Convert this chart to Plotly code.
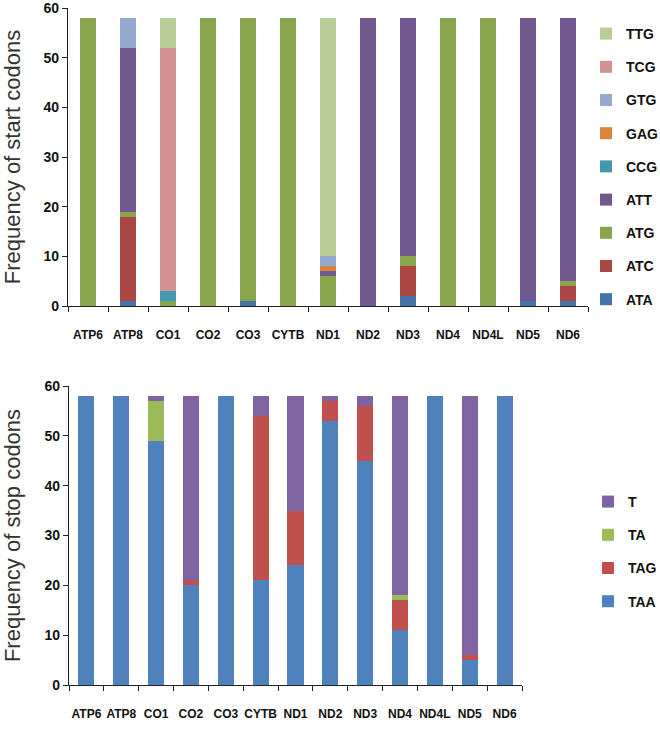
import plotly.graph_objects as go

genes = ["ATP6", "ATP8", "CO1", "CO2", "CO3", "CYTB", "ND1", "ND2", "ND3", "ND4", "ND4L", "ND5", "ND6"]

# Start codons (stack order bottom -> top)
start_ATA = [0, 1, 0, 0, 1, 0, 0, 0, 2, 0, 0, 1, 1]
start_ATC = [0, 17, 0, 0, 0, 0, 0, 0, 6, 0, 0, 0, 3]
start_ATG = [58, 1, 1, 58, 57, 58, 6, 0, 2, 58, 58, 0, 1]
start_ATT = [0, 33, 0, 0, 0, 0, 1, 58, 48, 0, 0, 57, 53]
start_CCG = [0, 0, 2, 0, 0, 0, 0, 0, 0, 0, 0, 0, 0]
start_GAG = [0, 0, 0, 0, 0, 0, 1, 0, 0, 0, 0, 0, 0]
start_GTG = [0, 6, 0, 0, 0, 0, 2, 0, 0, 0, 0, 0, 0]
start_TCG = [0, 0, 49, 0, 0, 0, 0, 0, 0, 0, 0, 0, 0]
start_TTG = [0, 0, 6, 0, 0, 0, 48, 0, 0, 0, 0, 0, 0]

# Stop codons (stack order bottom -> top)
stop_TAA = [58, 58, 49, 20, 58, 21, 24, 53, 45, 11, 58, 5, 58]
stop_TAG = [0, 0, 0, 1, 0, 33, 11, 4, 11, 6, 0, 1, 0]
stop_TA = [0, 0, 8, 0, 0, 0, 0, 0, 0, 1, 0, 0, 0]
stop_T = [0, 0, 1, 37, 0, 4, 23, 1, 2, 40, 0, 52, 0]

start_series = [
    ("ATA", start_ATA, "#4572a7"),
    ("ATC", start_ATC, "#aa4643"),
    ("ATG", start_ATG, "#89a54e"),
    ("ATT", start_ATT, "#71588f"),
    ("CCG", start_CCG, "#4198af"),
    ("GAG", start_GAG, "#db843d"),
    ("GTG", start_GTG, "#93a9cf"),
    ("TCG", start_TCG, "#d19392"),
    ("TTG", start_TTG, "#b9cd96"),
]
stop_series = [
    ("TAA", stop_TAA, "#4f81bd"),
    ("TAG", stop_TAG, "#c0504d"),
    ("TA", stop_TA, "#9bbb59"),
    ("T", stop_T, "#8064a2"),
]

W, H = 660, 731
fig = go.Figure()

for i, (name, vals, col) in enumerate(start_series):
    fig.add_trace(go.Bar(x=genes, y=vals, name=name, marker_color=col,
                         marker_line_width=0, width=0.4,
                         xaxis="x", yaxis="y", legend="legend",
                         legendgroup="s_" + name, legendrank=100 - i))
for i, (name, vals, col) in enumerate(stop_series):
    fig.add_trace(go.Bar(x=genes, y=vals, name=name, marker_color=col,
                         marker_line_width=0, width=0.46,
                         xaxis="x2", yaxis="y2", legend="legend2",
                         legendgroup="e_" + name, legendrank=100 - i))

font_fam = "Liberation Sans, Arial, sans-serif"
xcommon = dict(type="category", categoryorder="array", categoryarray=genes,
               showline=True, linecolor="#222", linewidth=1.3,
               ticks="outside", ticklen=5, tickcolor="#222", tickson="boundaries",
               ticklabelstandoff=17, tickangle=0, showgrid=False, zeroline=False,
               ticklabeloverflow="allow",
               tickfont=dict(family=font_fam, size=12, color="#111", weight="bold"))
ycommon = dict(range=[0, 60], dtick=10, showline=True, linecolor="#222", linewidth=1.3,
               ticks="outside", ticklen=5, tickcolor="#222", showgrid=False, zeroline=False,
               ticklabeloverflow="allow",
               tickfont=dict(family=font_fam, size=14, color="#111", weight="bold"))
ttl_font = dict(family=font_fam, size=22, color="#333")

fig.update_layout(
    width=W, height=H,
    margin=dict(l=0, r=0, t=0, b=0, autoexpand=False),
    paper_bgcolor="white", plot_bgcolor="white",
    barmode="stack", bargap=0.6,
    font=dict(family=font_fam),
    hovermode=False,
    xaxis=dict(domain=[68 / W, 588 / W], anchor="y", **xcommon),
    yaxis=dict(domain=[1 - 306 / H, 1 - 8 / H], anchor="x",
               title=dict(text="Frequency of start codons", standoff=17, font=ttl_font),
               **ycommon),
    xaxis2=dict(domain=[69 / W, 522 / W], anchor="y2", **xcommon),
    yaxis2=dict(domain=[1 - 685 / H, 1 - 386 / H], anchor="x2",
                title=dict(text="Frequency of stop codons", standoff=17, font=ttl_font),
                **ycommon),
    legend=dict(x=586 / W, y=1 - 18 / H, xanchor="left", yanchor="top",
                traceorder="grouped", tracegroupgap=12,
                font=dict(family=font_fam, size=14, color="#111", weight="bold"),
                bgcolor="rgba(0,0,0,0)", itemclick=False),
    legend2=dict(x=588 / W, y=1 - 486 / H, xanchor="left", yanchor="top",
                 traceorder="grouped", tracegroupgap=12,
                 font=dict(family=font_fam, size=14, color="#111", weight="bold"),
                 bgcolor="rgba(0,0,0,0)", itemclick=False),
    showlegend=True,
)

fig.write_html("out.html", config={"displayModeBar": False},
               post_script="document.body.style.margin='0';document.body.style.overflow='hidden';")
